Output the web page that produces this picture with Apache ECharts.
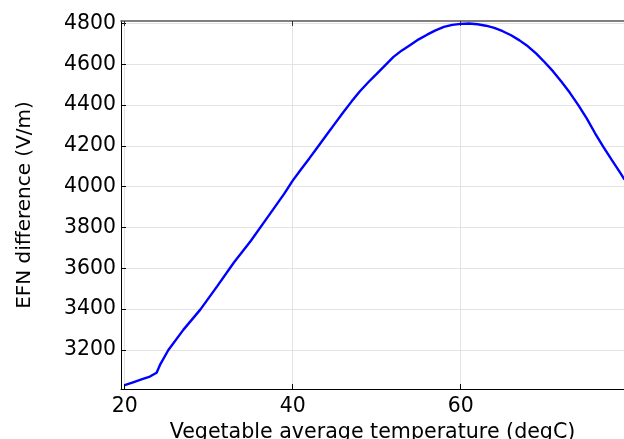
<!DOCTYPE html>
<html>
<head>
<meta charset="utf-8">
<script src="https://cdn.jsdelivr.net/npm/echarts@6/dist/echarts.min.js"></script>
<style>
  html, body { margin: 0; padding: 0; background: #fff; }
  #chart { width: 624px; height: 439px; }
</style>
</head>
<body>
<div id="chart"></div>
<script>
// Vegetable average temperature (degC)
const temperature = [20, 21, 22, 23, 23.8, 24.2, 25.2, 27, 29, 31, 33, 35, 37, 39, 40,
  41, 42, 43, 44, 45, 46, 47, 48, 49, 50, 51, 52, 53, 54, 55, 56, 57, 58, 59, 60, 61, 62, 63, 64,
  65, 66, 67, 68, 69, 70, 71, 72, 73, 74, 75, 76, 77, 78, 79, 79.5];
// EFN difference (V/m)
const efnDifference = [3028, 3042, 3056, 3070, 3089, 3127, 3200, 3300, 3398, 3512, 3629, 3734, 3850, 3966, 4030,
  4086, 4140, 4196, 4252, 4308, 4364, 4417, 4468, 4512, 4553, 4595, 4636, 4668, 4695, 4722, 4745, 4766, 4783, 4793, 4798, 4800, 4796, 4789, 4778,
  4762, 4742, 4717, 4688, 4652, 4610, 4565, 4514, 4460, 4400, 4335, 4262, 4194, 4130, 4068, 4035];

const xTicks = [20, 40, 60];
const yTicks = [3200, 3400, 3600, 3800, 4000, 4200, 4400, 4600, 4800];

const points = temperature.map((t, i) => [t, efnDifference[i]]);

const font = 'DejaVu Sans';
const chart = echarts.init(document.getElementById('chart'), null, { renderer: 'canvas' });

chart.setOption({
  animation: false,
  backgroundColor: '#ffffff',
  grid: { left: 121, right: 0, top: 21, bottom: 50, outerBoundsMode: 'none', containLabel: false },
  xAxis: [
    {
      type: 'value',
      min: 19.56,
      max: 79.44,
      name: 'Vegetable average temperature (degC)',
      nameLocation: 'middle',
      nameGap: 26,
      nameTextStyle: { fontFamily: font, fontSize: 20.6, color: '#000' },
      axisLine: { show: true, onZero: false, lineStyle: { color: '#000', width: 1 } },
      axisTick: { show: true, inside: true, length: 5, customValues: xTicks, lineStyle: { color: '#000' } },
      axisLabel: { customValues: xTicks, fontFamily: font, fontSize: 20.4, color: '#000', margin: 8,
        formatter: v => String(v) },
      splitLine: { show: true, lineStyle: { color: '#e3e3e3', width: 1 } }
    },
    {
      type: 'value',
      position: 'top',
      min: 19.56,
      max: 79.44,
      axisLine: { show: true, onZero: false, lineStyle: { color: '#555', width: 1.5 } },
      axisTick: { show: true, inside: true, length: 5, customValues: xTicks, lineStyle: { color: '#333' } },
      axisLabel: { show: false },
      splitLine: { show: false }
    }
  ],
  yAxis: {
    type: 'value',
    min: 3009,
    max: 4812,
    name: 'EFN difference (V/m)',
    nameLocation: 'middle',
    nameGap: 86,
    nameRotate: 90,
    nameTextStyle: { fontFamily: font, fontSize: 20, color: '#000' },
    axisLine: { show: true, onZero: false, lineStyle: { color: '#000', width: 1 } },
    axisTick: { show: true, inside: true, length: 5, customValues: yTicks, lineStyle: { color: '#000' } },
    axisLabel: { customValues: yTicks, fontFamily: font, fontSize: 20.4, color: '#000', margin: 5,
      formatter: v => String(v) },
    splitLine: { show: true, lineStyle: { color: '#e3e3e3', width: 1 } }
  },
  series: [{
    type: 'line',
    data: points,
    xAxisIndex: 0,
    showSymbol: false,
    smooth: false,
    lineStyle: { color: '#0000ff', width: 2.4 },
    clip: true
  }]
});
</script>
</body>
</html>
